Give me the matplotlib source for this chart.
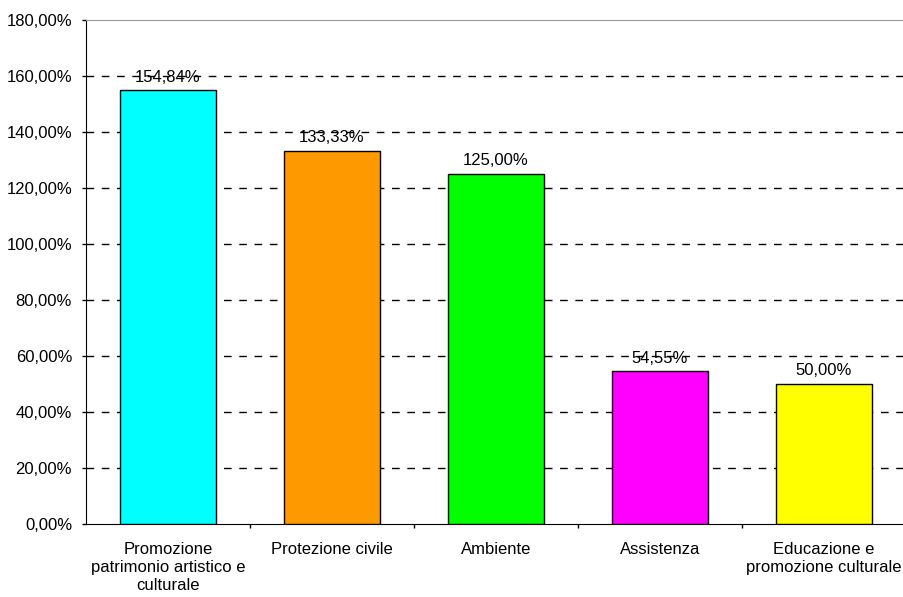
import matplotlib.pyplot as plt
from matplotlib.ticker import FuncFormatter

categories = ["Promozione\npatrimonio artistico e\nculturale", "Protezione civile",
              "Ambiente", "Assistenza", "Educazione e\npromozione culturale"]
values = [154.84, 133.33, 125.00, 54.55, 50.00]
colors = ["#00FFFF", "#FF9900", "#00FF00", "#FF00FF", "#FFFF00"]
yticks = [0, 20, 40, 60, 80, 100, 120, 140, 160, 180]

def pct(v):
    return f"{v:.2f}%".replace(".", ",")

plt.rcParams['font.family'] = ['Liberation Sans', 'DejaVu Sans']
plt.rcParams['font.size'] = 12

fig = plt.figure(figsize=(9.04, 5.97), dpi=100)
ax = fig.add_axes([86 / 904, 73 / 597, 820 / 904, 504 / 597])

x = list(range(len(categories)))
ax.bar(x, values, width=0.585, color=colors, edgecolor="black", linewidth=1, zorder=3)

for xi, v in zip(x, values):
    ax.annotate(pct(v), (xi, v), xytext=(0, 4), textcoords="offset points",
                ha="center", va="bottom", zorder=4)

# dashed grid, top line drawn as a gray spine
for t in yticks[1:-1]:
    ax.axhline(t, color="black", linestyle=(0, (5.5, 5.5)), linewidth=1, zorder=1)

ax.set_ylim(0, 180)
ax.set_xlim(-0.5, len(categories) - 0.5)
ax.set_yticks(yticks)
ax.yaxis.set_major_formatter(FuncFormatter(lambda v, p: pct(v)))

ax.set_xticks(x)
ax.set_xticklabels(categories, linespacing=1.25)
ax.set_xticks([i + 0.5 for i in x[:-1]], minor=True)
ax.tick_params(axis="x", which="major", length=0, pad=13)
ax.tick_params(axis="x", which="minor", length=3, width=1, direction="out")
ax.tick_params(axis="y", length=3, width=1, direction="out", pad=7)

ax.spines["right"].set_visible(False)
ax.spines["top"].set_color("#999999")
ax.spines["left"].set_color("black")
ax.spines["bottom"].set_color("black")

fig.savefig("out.png", dpi=100)
